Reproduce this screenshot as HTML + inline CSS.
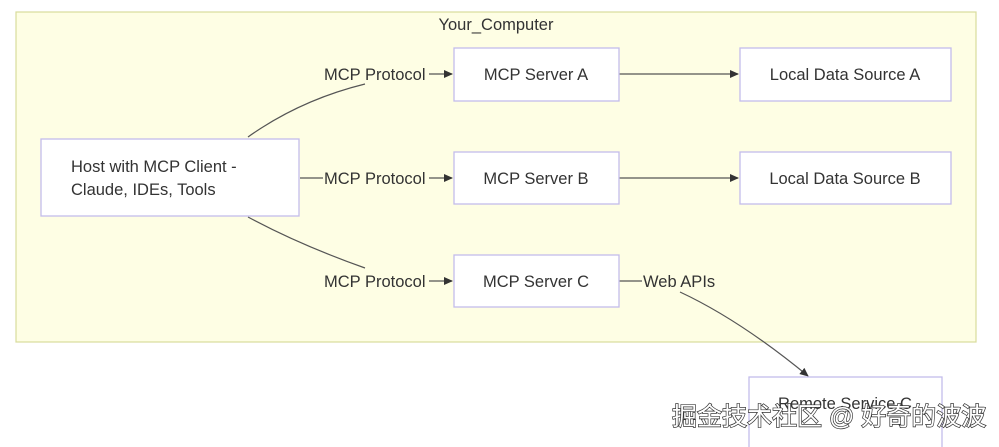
<!DOCTYPE html>
<html><head><meta charset="utf-8"><style>
html,body{margin:0;padding:0;background:#fff;width:999px;height:447px;overflow:hidden}
svg{display:block}
text{font-family:"Liberation Sans","Noto Sans CJK SC",sans-serif;fill:#333;font-size:16.5px}
</style></head><body>
<svg width="999" height="447" viewBox="0 0 999 447">
<defs><marker id="a" markerWidth="10" markerHeight="10" refX="8" refY="5" orient="auto" markerUnits="userSpaceOnUse"><path d="M0,1 L9,5 L0,9 z" fill="#333"/></marker></defs>
<rect x="16" y="12" width="960" height="330" fill="#fefee4" stroke="#d8dc9c" stroke-width="1.2"/>
<text x="496" y="30" text-anchor="middle">Your_Computer</text>
<g stroke="#555" stroke-width="1.2" fill="none">
<path d="M248,137 Q300,100 365,84"/>
<path d="M429,74 L452,74" marker-end="url(#a)"/>
<path d="M300,178 L323,178"/>
<path d="M429,178 L452,178" marker-end="url(#a)"/>
<path d="M248,217 Q300,245 365,268"/>
<path d="M429,281 L452,281" marker-end="url(#a)"/>
<path d="M619,74 L738,74" marker-end="url(#a)"/>
<path d="M619,178 L738,178" marker-end="url(#a)"/>
<path d="M619,281 L642,281"/>
<path d="M680,292 Q740,320 808,376" marker-end="url(#a)"/>
</g>
<text x="324" y="80">MCP Protocol</text>
<text x="324" y="184">MCP Protocol</text>
<text x="324" y="287">MCP Protocol</text>
<text x="643" y="287">Web APIs</text>
<g fill="#fff" stroke="#c4bcec" stroke-width="1.3">
<rect x="41" y="139" width="258" height="77"/>
<rect x="454" y="48" width="165" height="53"/>
<rect x="454" y="152" width="165" height="52"/>
<rect x="454" y="255" width="165" height="52"/>
<rect x="740" y="48" width="211" height="53"/>
<rect x="740" y="152" width="211" height="52"/>
<rect x="749" y="377" width="193" height="80"/>
</g>
<text x="71" y="172">Host with MCP Client -</text>
<text x="71" y="195">Claude, IDEs, Tools</text>
<text x="536" y="80" text-anchor="middle">MCP Server A</text>
<text x="536" y="184" text-anchor="middle">MCP Server B</text>
<text x="536" y="287" text-anchor="middle">MCP Server C</text>
<text x="845" y="80" text-anchor="middle">Local Data Source A</text>
<text x="845" y="184" text-anchor="middle">Local Data Source B</text>
<text x="845" y="409" text-anchor="middle">Remote Service C</text>
<text x="672" y="425" style="font-size:25px;fill:#fff;stroke:#333;stroke-width:1.4;paint-order:stroke">掘金技术社区 @ 好奇的波波</text>
</svg>
</body></html>
